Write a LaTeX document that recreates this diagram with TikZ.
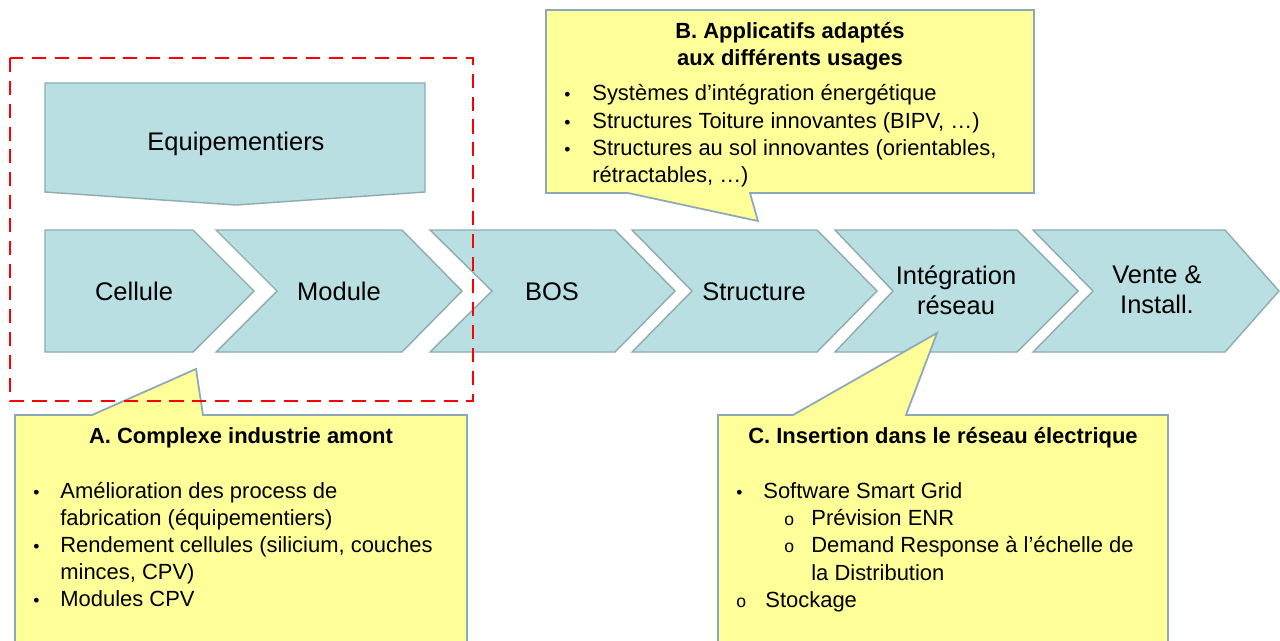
\documentclass[tikz,border=0pt]{standalone}
\usepackage{fontspec}
\setmainfont{Liberation Sans}
\definecolor{chevfill}{HTML}{B9DFE2}
\definecolor{chevline}{HTML}{8EABAE}
\definecolor{noteyellow}{HTML}{FFFF99}
\definecolor{noteline}{HTML}{8DA8B8}
\definecolor{framered}{HTML}{FF0000}

\begin{document}
\begin{tikzpicture}[x=0.02cm, y=-0.02cm,
  chevron/.style={fill=chevfill, draw=chevline, line width=0.8pt},
  callout/.style={fill=noteyellow, draw=noteline, line width=1pt},
  stage/.style={font=\fontsize{14.5}{17}\selectfont, inner sep=0pt, align=center},
  head/.style={font=\bfseries\fontsize{12.5}{15.4}\selectfont, inner sep=0pt, anchor=base},
  item/.style={font=\fontsize{12.5}{15.4}\selectfont, inner sep=0pt, anchor=base west},
  bulletmark/.style={font=\fontsize{10}{12}\selectfont, inner sep=0pt, anchor=base west}]
 \clip (0,0) rectangle (1280,640);

 % value chain
 \draw[chevron] (45,230) -- (193,230) -- (254,291) -- (193,352) -- (45,352) -- cycle;
 \draw[chevron] (216,230) -- (402,230) -- (462,291) -- (402,352) -- (216,352) -- (277,291) -- cycle;
 \draw[chevron] (430,230) -- (615,230) -- (675,291) -- (615,352) -- (430,352) -- (492,291) -- cycle;
 \draw[chevron] (632,230) -- (817,230) -- (877,291) -- (817,352) -- (632,352) -- (692,291) -- cycle;
 \draw[chevron] (835,230) -- (1017,230) -- (1078,291) -- (1017,352) -- (835,352) -- (893,291) -- cycle;
 \draw[chevron] (1033,230) -- (1225,230) -- (1279,291) -- (1225,352) -- (1033,352) -- (1093,291) -- cycle;
 \draw[chevron] (45,83) -- (425,83) -- (425,192) -- (236,205) -- (45,192) -- cycle;

 \node (equip) [stage, anchor=base] at (236,150) {Equipementiers};
 \node (cel) [stage, anchor=base] at (134,300) {Cellule};
 \node (mod) [stage, anchor=base] at (339,300) {Module};
 \node (bos) [stage, anchor=base] at (552,300) {BOS};
 \node (str) [stage, anchor=base] at (754,300) {Structure};
 \node (integ) [stage] at (956,290) {Intégration\\réseau};
 \node (vente) [stage] at (1157,290) {Vente \&\\Install.};

 % callouts
 \draw[callout] (15,415) -- (92,415) -- (196,369) -- (203,415) -- (467,415) -- (467,660) -- (15,660) -- cycle;
 \draw[callout] (546,10) -- (1034,10) -- (1034,193) -- (750,193) -- (758,221) -- (628,193) -- (546,193) -- cycle;
 \draw[callout] (718,415) -- (793,415) -- (937,333) -- (906,415) -- (1168,415) -- (1168,660) -- (718,660) -- cycle;

 % A
 \node (hA) [head] at (241,443) {A. Complexe industrie amont};
 \node (dA1) [bulletmark] at (33,498) {•};
 \node (tA1) [item] at (60,498) {Amélioration des process de};
 \node (tA2) [item] at (60,525) {fabrication (équipementiers)};
 \node (dA2) [bulletmark] at (33,552) {•};
 \node (tA3) [item] at (60,552) {Rendement cellules (silicium, couches};
 \node (tA4) [item] at (60,579) {minces, CPV)};
 \node (dA3) [bulletmark] at (33,606) {•};
 \node (tA5) [item] at (60,606) {Modules CPV};

 % B
 \node (hB1) [head] at (790,38) {B. Applicatifs adaptés};
 \node (hB2) [head] at (790,65) {aux différents usages};
 \node (dB1) [bulletmark] at (564,100) {•};
 \node (tB1) [item] at (592,100) {Systèmes d’intégration énergétique};
 \node (dB2) [bulletmark] at (564,128) {•};
 \node (tB2) [item] at (592,128) {Structures Toiture innovantes (BIPV, …)};
 \node (dB3) [bulletmark] at (564,155) {•};
 \node (tB3) [item] at (592,155) {Structures au sol innovantes (orientables,};
 \node (tB4) [item] at (592,182) {rétractables, …)};

 % C
 \node (hC) [head] at (943,443) {C. Insertion dans le réseau électrique};
 \node (dC1) [bulletmark] at (736,498) {•};
 \node (tC1) [item] at (763,498) {Software Smart Grid};
 \node (dC2) [bulletmark] at (784,525) {o};
 \node (tC2) [item] at (811,525) {Prévision ENR};
 \node (dC3) [bulletmark] at (784,552) {o};
 \node (tC3) [item] at (811,552) {Demand Response à l’échelle de};
 \node (tC4) [item] at (811,580) {la Distribution};
 \node (dC4) [bulletmark] at (736,607) {o};
 \node (tC5) [item] at (765,607) {Stockage};

 % upstream frame
 \draw[framered, line width=1.1pt, dash pattern=on 8pt off 5pt] (10,58) rectangle (473,401);
\end{tikzpicture}
\end{document}
